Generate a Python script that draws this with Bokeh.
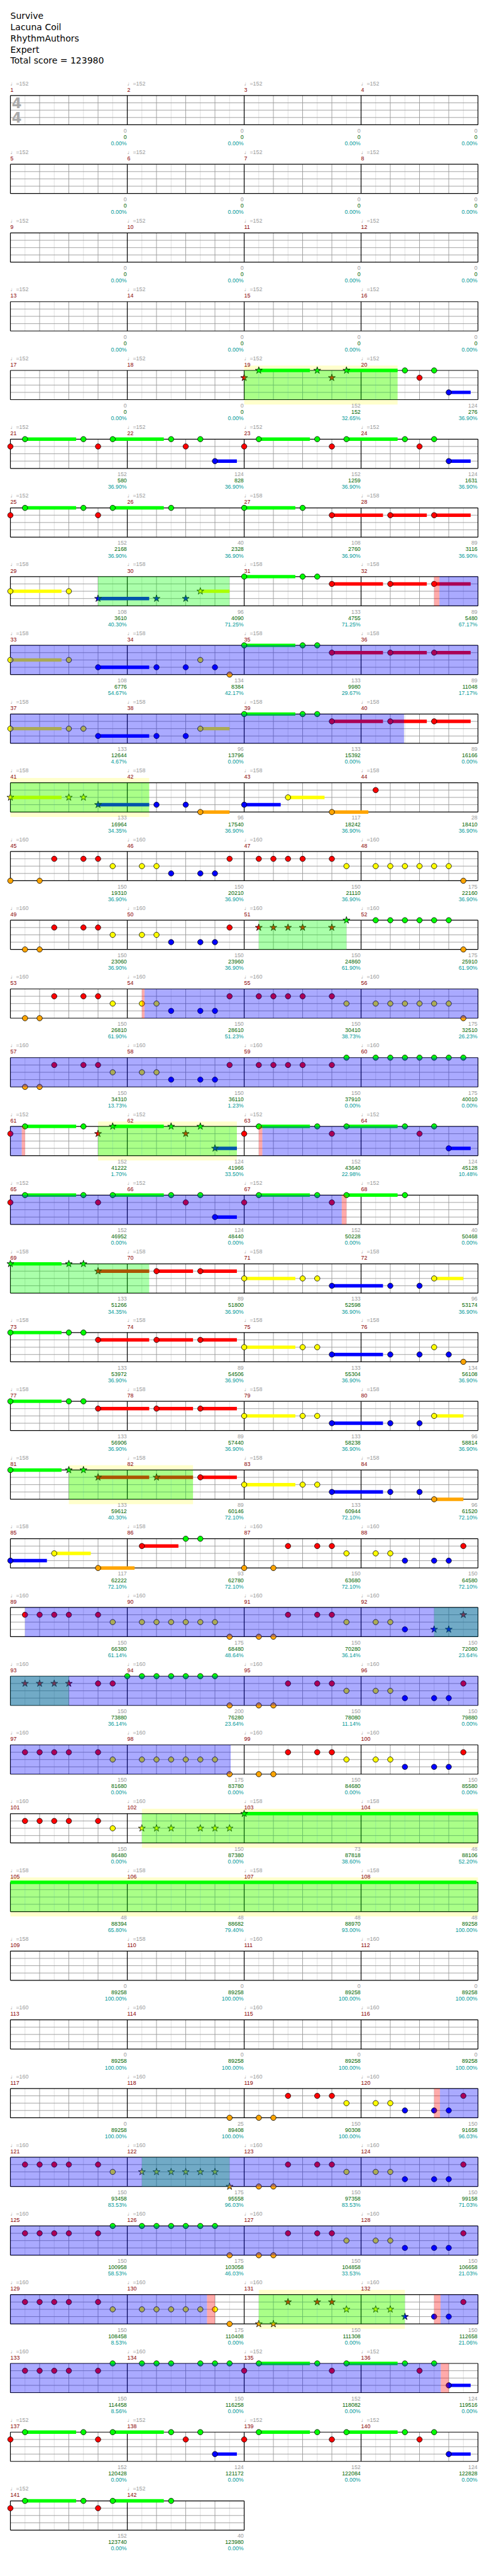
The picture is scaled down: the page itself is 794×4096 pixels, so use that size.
from bokeh.plotting import figure
from bokeh.models import Range1d, ColumnDataSource
from bokeh.core.properties import value
from bokeh.embed import file_html
from bokeh.resources import INLINE

# ---------------- data ----------------
song_info = ["Survive", "Lacuna Coil", "RhythmAuthors", "Expert", "Total score = 123980"]
time_signature = ["4", "4"]

tempo = [
    152, 152, 152, 152, 152, 152, 152, 152, 152, 152, 152, 152, 152, 152, 152, 152,
    152, 152, 152, 152, 152, 152, 152, 152, 152, 152, 158, 158,
    158, 158, 158, 158, 158, 158, 158, 158, 158, 158, 158, 158, 158, 158, 158, 158,
    160, 160, 160, 160, 160, 160, 160, 160, 160, 160, 160, 160, 160, 160, 160, 160,
    152, 152, 152, 152, 152, 152, 152, 152,
    158, 158, 158, 158, 158, 158, 158, 158, 158, 158, 158, 158, 158, 158, 158, 158, 158, 158,
    160, 160, 160, 160, 160, 160, 160, 160, 160, 160, 160, 160, 160, 160, 160, 160,
    158, 158, 158, 158, 158, 158, 158, 158,
    160, 160, 160, 160, 160, 160, 160, 160, 160, 160, 160, 160, 160, 160, 160, 160,
    160, 160, 160, 160, 160, 160, 160, 160,
    152, 152, 152, 152, 152, 152, 152, 152,
]

measure_score = [
    0, 0, 0, 0, 0, 0, 0, 0, 0, 0, 0, 0, 0, 0, 0, 0,
    0, 0, 152, 124, 152, 124, 152, 124, 152, 40, 108, 89,
    108, 96, 133, 89, 108, 134, 133, 89, 133, 96, 133, 89, 133, 96, 117, 28,
    150, 150, 150, 175, 150, 150, 150, 175, 150, 150, 150, 175, 150, 150, 150, 175,
    152, 124, 152, 124, 152, 124, 152, 40,
    133, 89, 133, 96, 133, 89, 133, 134, 133, 89, 133, 96, 133, 89, 133, 96, 117, 93,
    150, 150, 150, 175, 150, 150, 150, 200, 150, 150, 150, 175, 150, 150, 150, 150,
    73, 48, 48, 48, 48, 48, 0, 0,
    0, 0, 0, 0, 0, 0, 0, 25, 150, 150, 150, 175, 150, 150, 150, 175,
    150, 150, 150, 175, 150, 150, 150, 150,
    152, 124, 152, 124, 152, 124, 152, 40,
]

total_score = [
    0, 0, 0, 0, 0, 0, 0, 0, 0, 0, 0, 0, 0, 0, 0, 0,
    0, 0, 152, 276, 580, 828, 1259, 1631, 2168, 2328, 2760, 3116,
    3610, 4090, 4755, 5480, 6776, 8384, 9980, 11048, 12644, 13796, 15392, 16166,
    16964, 17540, 18242, 18410,
    19310, 20210, 21110, 22160, 23060, 23960, 24860, 25910, 26810, 28610, 30410, 32510,
    34310, 36110, 37910, 40010,
    41222, 41966, 43640, 45128, 46952, 48440, 50228, 50468,
    51266, 51800, 52598, 53174, 53972, 54506, 55304, 56108, 56906, 57440, 58238, 58814,
    59612, 60146, 60944, 61520, 62222, 62780,
    63680, 64580, 66380, 68480, 70280, 72080, 73880, 76280, 78080, 79880, 81680, 83780,
    84680, 85580, 86480, 87380,
    87818, 88106, 88394, 88682, 88970, 89258, 89258, 89258,
    89258, 89258, 89258, 89258, 89258, 89258, 89258, 89408, 90308, 91658, 93458, 95558,
    97358, 99158, 100958, 103058, 104858, 106658, 108458, 110408, 111308, 112658, 114458, 116258,
    118082, 119516, 120428, 121172, 122084, 122828, 123740, 123980,
]

sp_percent = [
    "0.00%", "0.00%", "0.00%", "0.00%", "0.00%", "0.00%", "0.00%", "0.00%",
    "0.00%", "0.00%", "0.00%", "0.00%", "0.00%", "0.00%", "0.00%", "0.00%",
    "0.00%", "0.00%", "32.65%", "36.90%", "36.90%", "36.90%", "36.90%", "36.90%",
    "36.90%", "36.90%", "36.90%", "36.90%",
    "40.30%", "71.25%", "71.25%", "67.17%", "54.67%", "42.17%", "29.67%", "17.17%",
    "4.67%", "0.00%", "0.00%", "0.00%", "34.35%", "36.90%", "36.90%", "36.90%",
    "36.90%", "36.90%", "36.90%", "36.90%", "36.90%", "36.90%", "61.90%", "61.90%",
    "61.90%", "51.23%", "38.73%", "26.23%", "13.73%", "1.23%", "0.00%", "0.00%",
    "1.70%", "33.50%", "22.98%", "10.48%", "0.00%", "0.00%", "0.00%", "0.00%",
    "34.35%", "36.90%", "36.90%", "36.90%", "36.90%", "36.90%", "36.90%", "36.90%",
    "36.90%", "36.90%", "36.90%", "36.90%", "40.30%", "72.10%", "72.10%", "72.10%",
    "72.10%", "72.10%",
    "72.10%", "72.10%", "61.14%", "48.64%", "36.14%", "23.64%", "36.14%", "23.64%",
    "11.14%", "0.00%", "0.00%", "0.00%", "0.00%", "0.00%", "0.00%", "0.00%",
    "38.60%", "52.20%", "65.80%", "79.40%", "93.00%", "100.00%", "100.00%", "100.00%",
    "100.00%", "100.00%", "100.00%", "100.00%", "100.00%", "100.00%", "100.00%", "100.00%",
    "100.00%", "96.03%", "83.53%", "96.03%", "83.53%", "71.03%", "58.53%", "46.03%",
    "33.53%", "21.03%", "8.53%", "0.00%", "0.00%", "21.06%", "8.56%", "0.00%",
    "0.00%", "0.00%", "0.00%", "0.00%", "0.00%", "0.00%", "0.00%", "0.00%",
]

# notes per measure: lane letter (g r y b o), upper case = star note,
# beat within the measure, optional ":end beat" of the sustain
notes_part1 = {
    19: "R0 G0.5:2.25 G2.5 R3 G3.5:5.25", 20: "g1.5 r2 g2.5 b3:3.75",
    21: "r0 g0.5:2.25 g2.5 r3 g3.5:5.25", 22: "g1.5 r2 g2.5 b3:3.75",
    23: "r0 g0.5:2.25 g2.5 r3 g3.5:5.25", 24: "g1.5 r2 g2.5 b3:3.75",
    25: "r0 g0.5:2.25 g2.5 r3 g3.5:5.25", 26: "g1.5",
    27: "g0:1.75 g2 r3:4.75", 28: "r1:2.25 r2.5:3.75",
    29: "y0:1.75 y2 B3:4.75", 30: "B1 B2 Y2.5:3.5",
    31: "g0:1.75 g2 g2.5 r3:4.75", 32: "r1:2.25 r2.5:3.75",
    33: "y0:1.75 y2 b3:4.75", 34: "b1 b2 y2.5 b3 o3.5",
    35: "g0:1.75 g2 g2.5 r3:4.75", 36: "r1:2.25 r2.5:3.75",
    37: "y0:1.75 y2 y2.5 b3:4.75", 38: "b1 b2 y2.5:3.5",
    39: "g0:1.75 g2 g2.5 r3:4.75", 40: "r1:2.25 r2.5:3.75",
    41: "Y0:1.75 Y2 Y2.5 B3:4.75", 42: "b1 b2 o2.5:3.5",
    43: "b0:1.25 y1.5:2.75 o3:4.25", 44: "r0.5",
}
notes_part2 = {
    45: "o0 o1 r1.5 r2.5 r3 y3.5", 46: "y0.5 y1 b1.5 b2.5 b3 r3.5",
    47: "r0.5 r1 r1.5 r2 r3 y3.5", 48: "y0.5 y1 y1.5 y2 y2.5 y3 o3.5",
    49: "o0.5 o1 r1.5 r2.5 r3 y3.5", 50: "y0.5 y1 b1.5 b2.5 b3 r3.5",
    51: "R0.5 R1 R1.5 R2 R3 G3.5", 52: "g0.5 g1 g1.5 g2 g2.5 g3 o3.5",
    53: "o0.5 o1 r1.5 r2.5 r3 y3.5", 54: "y0.5 y1 b1.5 b2.5 b3 r3.5",
    55: "r0.5 r1 r1.5 r2 r3 y3.5", 56: "y0.5 y1 y1.5 y2 y2.5 y3 o3.5",
    57: "o0.5 o1 r1.5 r2.5 r3 y3.5", 58: "y0.5 y1 b1.5 b2.5 b3 r3.5",
    59: "r0.5 r1 r1.5 r2 r3 g3.5", 60: "g0.5 g1 g1.5 g2 g2.5 g3 g3.5",
    61: "r0 g0.5:2.25 g2.5 R3 G3.5:5.25", 62: "G1.5 R2 G2.5 B3:3.75",
    63: "r0 g0.5:2.25 g2.5 r3 g3.5:5.25", 64: "g1.5 r2 g2.5 b3:3.75",
    65: "r0 g0.5:2.25 g2.5 r3 g3.5:5.25", 66: "g1.5 r2 g2.5 b3:3.75",
    67: "r0 g0.5:2.25 g2.5 r3 g3.5:5.25", 68: "g1.5",
}
notes_part3 = {
    69: "G0:1.75 G2 G2.5 R3:4.75", 70: "r1:2.25 r2.5:3.75",
    71: "y0:1.75 y2 y2.5 b3:4.75", 72: "b1 b2 y2.5:3.5",
    73: "g0:1.75 g2 g2.5 r3:4.75", 74: "r1:2.25 r2.5:3.75",
    75: "y0:1.75 y2 y2.5 b3:4.75", 76: "b1 b2 y2.5 b3 o3.5",
    77: "g0:1.75 g2 g2.5 r3:4.75", 78: "r1:2.25 r2.5:3.75",
    79: "y0:1.75 y2 y2.5 b3:4.75", 80: "b1 b2 y2.5:3.5",
    81: "g0:1.75 G2 G2.5 R3:4.75", 82: "R1:2.25 r2.5:3.75",
    83: "y0:1.75 y2 y2.5 b3:4.75", 84: "b1 b2 o2.5:3.5",
    85: "b0:1.25 y1.5:2.75 o3:4.25", 86: "r0.5:1.75 g2 g2.5",
    87: "o0 o1 r1.5 r2.5 r3 y3.5", 88: "y0.5 y1 b1.5 b2.5 b3 r3.5",
    89: "r0.5 r1 r1.5 r2 r3 y3.5", 90: "y0.5 y1 y1.5 y2 y2.5 y3 o3.5",
    91: "o0.5 o1 r1.5 r2.5 r3 y3.5", 92: "y0.5 y1 b1.5 B2.5 B3 R3.5",
    93: "R0.5 R1 R1.5 R2 r3 r3.5", 94: "g0 g0.5 g1 g1.5 g2 g2.5 g3 o3.5",
    95: "o0.5 o1 r1.5 r2.5 r3 y3.5", 96: "y0.5 y1 b1.5 b2.5 b3 r3.5",
    97: "r0.5 r1 r1.5 r2 r3 y3.5", 98: "y0.5 y1 y1.5 y2 y2.5 y3 o3.5",
    99: "o0.5 o1 r1.5 r2.5 r3 y3.5", 100: "y0.5 y1 b1.5 b2.5 b3 r3.5",
    101: "r0.5 r1 r1.5 r2 r3 y3.5", 102: "Y0.5 Y1 Y1.5 Y2.5 Y3 Y3.5",
    103: "G0:23.95",
}
notes_part4 = {
    118: "o3.5",
    119: "o0.5 o1 r1.5 r2.5 r3 y3.5", 120: "y0.5 y1 b1.5 b2.5 b3 r3.5",
    121: "r0.5 r1 r1.5 r2 r3 y3.5", 122: "Y0.5 Y1 Y1.5 Y2 Y2.5 Y3 O3.5",
    123: "o0.5 o1 r1.5 r2.5 r3 y3.5", 124: "y0.5 y1 b1.5 b2.5 b3 r3.5",
    125: "r0.5 r1 r1.5 r2 r3 g3.5", 126: "g0.5 g1 g1.5 g2 g2.5 g3 o3.5",
    127: "o0.5 o1 r1.5 r2.5 r3 y3.5", 128: "y0.5 y1 b1.5 b2.5 b3 r3.5",
    129: "r0.5 r1 r1.5 r2 r3 y3.5", 130: "y0.5 y1 y1.5 y2 y2.5 y3 o3.5",
    131: "O0.5 O1 R1.5 R2.5 R3 Y3.5", 132: "Y0.5 Y1 B1.5 b2.5 b3 r3.5",
    133: "r0.5 r1 r1.5 r2 r3 g3.5", 134: "g0.5 g1 g1.5 g2.5 g3 g3.5",
    135: "r0 g0.5:2.25 g2.5 r3 g3.5:5.25", 136: "g1.5 r2 g2.5 b3:3.75",
    137: "r0 g0.5:2.25 g2.5 r3 g3.5:5.25", 138: "g1.5 r2 g2.5 b3:3.75",
    139: "r0 g0.5:2.25 g2.5 r3 g3.5:5.25", 140: "g1.5 r2 g2.5 b3:3.75",
    141: "r0 g0.5:2.25 g2.5 r3 g3.5:5.25", 142: "g1.5",
}

# regions in song beats (measure m starts at beat 4*(m-1))
star_phrases = [(72, 77.25), (115, 119.5), (160, 164.75), (200.5, 203.5), (243, 247.75),
                (272, 276.75), (322, 326.25), (366.5, 370), (404.5, 432), (484.5, 487.5),
                (520.5, 525.5)]
phrase_bands = [(72, 77.25), (160, 164.75), (243, 247.75), (322, 326.25), (404.5, 432),
                (520.5, 525.5)]
activations = [(126.68, 157.47), (212.59, 240.39), (248.62, 267.34), (352.5, 391.54),
               (478.7, 518.73), (526.72, 542.73)]
squeezes = [(126.5, 126.68), (212.5, 212.59), (240.39, 240.5), (248.5, 248.62),
            (267.34, 267.5), (478.5, 478.7), (518.73, 519.0), (526.5, 526.72),
            (542.73, 543.0)]

# ---------------- layout (reference pixels) ----------------
S = 0.775
W, H = 778, 4080
X0, MW, BW = 31.0, 240.0, 60.0
T0, RH, LG = 205.7, 141.0, 15.0
NM = len(tempo)
NROWS = (NM + 3) // 4
LANES = "grybo"
NOTE_COLORS = ["#00ff00", "#ff0000", "#ffff00", "#0000ff", "#ffa500"]
LBL_FONT = value("Liberation Sans")
LBL_SIZE = "%.1fpx" % (11.5 * S)


def row_top(r):
    return T0 + RH * r


def split_rows(g0, g1):
    parts = []
    r = int(g0 // 16)
    while g0 < g1 - 1e-9:
        end = min(g1, 16 * (r + 1))
        parts.append((r, X0 + BW * (g0 - 16 * r), X0 + BW * (end - 16 * r)))
        g0 = end
        r += 1
    return parts


p = figure(width=W, height=H,
           x_range=Range1d(8 / S, 8 / S + W / S),
           y_range=Range1d(8 / S + H / S, 8 / S),
           output_backend="svg", toolbar_location=None,
           x_axis_type=None, y_axis_type=None, min_border=0)
p.grid.visible = False
p.outline_line_color = None
p.background_fill_color = "white"
p.border_fill_color = "white"

# phrase bands (behind the staff)
bl, br, bt, bb = [], [], [], []
for g0, g1 in phrase_bands:
    for r, xa, xb in split_rows(g0, g1):
        T = row_top(r)
        bl.append(xa); br.append(xb); bt.append(T - 10); bb.append(T + 70)
p.quad(left=bl, right=br, top=bt, bottom=bb, fill_color="#ffffcc", line_color=None)

# staff grid
light = ([], [], [], [])
mid = ([], [], [], [])
dark = ([], [], [], [])


def add(store, x0, y0, x1, y1):
    store[0].append(x0); store[1].append(y0); store[2].append(x1); store[3].append(y1)


for r in range(NROWS):
    nm = min(4, NM - 4 * r)
    T = row_top(r)
    xl, xr = X0, X0 + MW * nm
    for c in range(nm):
        mx = X0 + MW * c
        for k in (1, 3, 5, 7):
            add(light, mx + 30 * k, T, mx + 30 * k, T + 60)
        for k in (2, 4, 6):
            add(mid, mx + 30 * k, T, mx + 30 * k, T + 60)
        if c > 0:
            add(dark, mx, T, mx, T + 60)
    for k in (1, 2, 3):
        add(mid, xl, T + LG * k, xr, T + LG * k)
    add(dark, xl, T, xr, T)
    add(dark, xl, T + 60, xr, T + 60)
    add(dark, xl, T, xl, T + 60)
    add(dark, xr, T, xr, T + 60)

p.segment(x0=light[0], y0=light[1], x1=light[2], y1=light[3], line_color="#dddddd", line_width=0.9)
p.segment(x0=mid[0], y0=mid[1], x1=mid[2], y1=mid[3], line_color="#999999", line_width=0.9)
p.segment(x0=dark[0], y0=dark[1], x1=dark[2], y1=dark[3], line_color="#000000", line_width=1.2)

# time signature
p.text(x=[X0 + 13, X0 + 13], y=[row_top(0) + 15, row_top(0) + 45], text=time_signature,
       text_font=value("DejaVu Sans"), text_font_style="bold", text_font_size="%.1fpx" % (29 * S),
       text_color="#aaaaaa", text_align="center", text_baseline="middle")

# notes
circ = dict(x=[], y=[], c=[])
star = dict(x=[], y=[], c=[])
sus = dict(l=[], r=[], t=[], b=[], c=[])
for book in (notes_part1, notes_part2, notes_part3, notes_part4):
    for m, spec in book.items():
        for tok in spec.split():
            is_star = tok[0].isupper()
            lane = LANES.index(tok[0].lower())
            rest = tok[1:]
            if ":" in rest:
                b, e = (float(v) for v in rest.split(":"))
            else:
                b, e = float(rest), None
            gb = 4 * (m - 1) + b
            r = int(gb // 16)
            x = X0 + BW * (gb - 16 * r)
            y = row_top(r) + LG * lane
            col = NOTE_COLORS[lane]
            if e is not None:
                for rr, xa, xb in split_rows(gb, 4 * (m - 1) + e):
                    yy = row_top(rr) + LG * lane
                    sus["l"].append(xa); sus["r"].append(xb)
                    sus["t"].append(yy - 3.5); sus["b"].append(yy + 3.5); sus["c"].append(col)
            d = star if is_star else circ
            d["x"].append(x); d["y"].append(y); d["c"].append(col)

p.quad(left="l", right="r", top="t", bottom="b", fill_color="c", line_color=None,
       source=ColumnDataSource(sus))
p.scatter(x="x", y="y", fill_color="c", line_color="#000000", line_width=0.8,
          size=11 * S, marker="circle", source=ColumnDataSource(circ))
p.scatter(x="x", y="y", fill_color="c", line_color="#000000", line_width=0.8,
          size=15 * S, marker="star", source=ColumnDataSource(star))


# overlays
def overlay(intervals, color):
    l, rr_, t, b = [], [], [], []
    for g0, g1 in intervals:
        for r, xa, xb in split_rows(g0, g1):
            T = row_top(r)
            l.append(xa); rr_.append(xb); t.append(T); b.append(T + 60)
    p.quad(left=l, right=rr_, top=t, bottom=b, fill_color=color, fill_alpha=1 / 3, line_color=None)


overlay(star_phrases, "#00ff00")
overlay(activations, "#0000ff")
overlay(squeezes, "#ff0000")

# title
p.text(x=[X0] * len(song_info), y=[42, 65, 88, 111, 134], text=song_info,
       text_font=value("DejaVu Sans"), text_font_size="%.1fpx" % (18 * S),
       text_color="#000000", text_baseline="middle", text_align="left")

# measure labels
lab = dict(tx=[], ty=[], tt=[], nx=[], ny=[], nt=[], rx=[], gy=[], gt=[], sy=[], st=[], py=[], pt=[])
for i in range(NM):
    r, c = divmod(i, 4)
    T = row_top(r)
    mx = X0 + MW * c
    lab["tx"].append(mx); lab["ty"].append(T - 25); lab["tt"].append("\u2669=%d" % tempo[i])
    lab["nx"].append(mx); lab["ny"].append(T - 12); lab["nt"].append(str(i + 1))
    lab["rx"].append(mx + MW - 1)
    lab["gy"].append(T + 72); lab["gt"].append(str(measure_score[i]))
    lab["sy"].append(T + 85); lab["st"].append(str(total_score[i]))
    lab["py"].append(T + 98); lab["pt"].append(sp_percent[i])

src = ColumnDataSource(lab)
common = dict(text_font=LBL_FONT, text_font_size=LBL_SIZE, text_baseline="middle", source=src)
p.text(x="tx", y="ty", text="tt", text_color="#9a9a9a", text_align="left", **common)
p.text(x="nx", y="ny", text="nt", text_color="#8b0000", text_align="left", **common)
p.text(x="rx", y="gy", text="gt", text_color="#9a9a9a", text_align="right", **common)
p.text(x="rx", y="sy", text="st", text_color="#006600", text_align="right", **common)
p.text(x="rx", y="py", text="pt", text_color="#009999", text_align="right", **common)

open("out.html", "w").write(file_html(p, INLINE))
